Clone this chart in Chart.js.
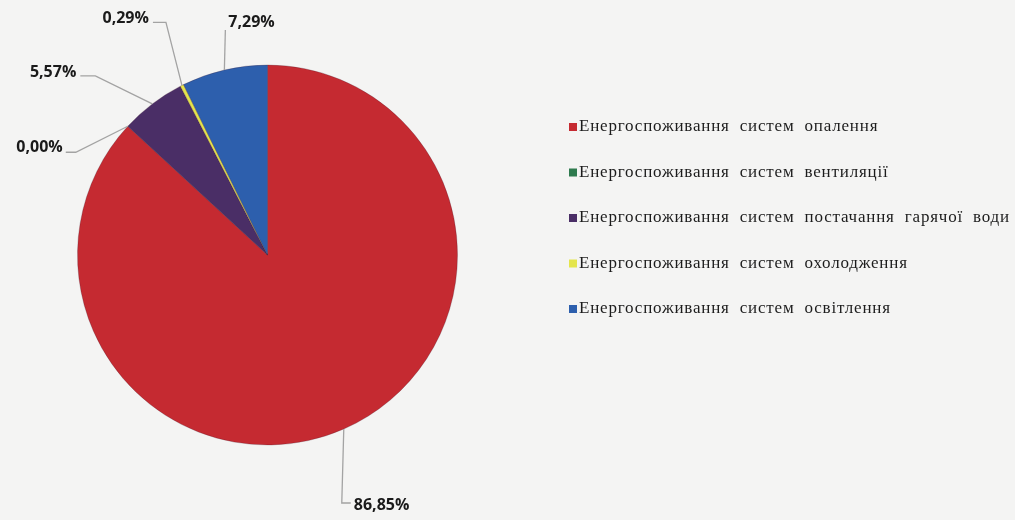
<!DOCTYPE html>
<html>
<head>
<meta charset="utf-8">
<script src="https://cdn.jsdelivr.net/npm/chart.js@4/dist/chart.umd.min.js"></script>
<style>
  html, body { margin: 0; padding: 0; background: #f4f4f3; }
  #wrap { width: 1015px; height: 520px; position: relative; }
</style>
</head>
<body>
<div id="wrap"><canvas id="canvasChart"></canvas></div>
<script>
// data
var categories = [
    "Енергоспоживання систем опалення",
    "Енергоспоживання систем вентиляції",
    "Енергоспоживання систем постачання гарячої води",
    "Енергоспоживання систем охолодження",
    "Енергоспоживання систем освітлення"
];
var shares = [86.85, 0.00, 5.57, 0.29, 7.29];
var valueLabels = ["86,85%", "0,00%", "5,57%", "0,29%", "7,29%"];
var sliceColors = ['#c52a31', '#2e7a4e', '#4a2e66', '#e4e54c', '#2d5fad'];

// leader line layout: elbow offset from slice edge, end offset from elbow, text offset from end
var leaderLayout = [
    { elbow: [-2, 74],  end: [9, 0],   text: [3, 2],   align: 'left' },
    { elbow: [-52, 26], end: [-10, 0], text: [-3, -5], align: 'right' },
    { elbow: [-57, -28], end: [-15, 0], text: [-4, -3], align: 'right' },
    { elbow: [-16, -63], end: [-13, 0], text: [-4, -4], align: 'right' },
    { elbow: [1, -40],  end: [0, 0],   text: [3, -8],  align: 'left' }
];

var leaderLabels = {
    id: 'leaderLabels',
    afterDatasetsDraw: function(chart) {
        var ctx = chart.ctx;
        var meta = chart.getDatasetMeta(0);
        ctx.save();
        meta.data.forEach(function(arc, i) {
            var p = arc.getProps(['x', 'y', 'startAngle', 'endAngle', 'outerRadius'], true);
            var mid = (p.startAngle + p.endAngle) / 2;
            var sx = p.x + Math.cos(mid) * p.outerRadius;
            var sy = p.y + Math.sin(mid) * p.outerRadius;
            var L = leaderLayout[i];
            var ex = sx + L.elbow[0], ey = sy + L.elbow[1];
            var fx = ex + L.end[0], fy = ey + L.end[1];
            ctx.strokeStyle = '#a3a3a3';
            ctx.lineWidth = 1.3;
            ctx.beginPath();
            ctx.moveTo(sx, sy);
            ctx.lineTo(ex, ey);
            ctx.lineTo(fx, fy);
            ctx.stroke();
            ctx.fillStyle = '#1a1a1a';
            ctx.font = 'bold 16px "Open Sans", sans-serif';
            ctx.textAlign = L.align;
            ctx.textBaseline = 'middle';
            ctx.fillText(valueLabels[i], fx + L.text[0], fy + L.text[1]);
        });
        ctx.restore();
    }
};

var sideLegend = {
    id: 'sideLegend',
    afterDraw: function(chart) {
        var ctx = chart.ctx;
        var x = 569, y = 127, step = 45.5;
        ctx.save();
        ctx.font = '17px "Liberation Serif", serif';
        ctx.wordSpacing = '5px';
        ctx.letterSpacing = '0.8px';
        ctx.textAlign = 'left';
        ctx.textBaseline = 'middle';
        chart.data.labels.forEach(function(label, i) {
            var yy = y + i * step;
            ctx.fillStyle = chart.data.datasets[0].backgroundColor[i];
            ctx.fillRect(x, yy - 4, 8, 8);
            ctx.fillStyle = '#1c1c1c';
            ctx.fillText(label, x + 10, yy);
        });
        ctx.restore();
    }
};

var chartObject = new Chart(document.getElementById('canvasChart'), {
    type: 'pie',
    data: {
        labels: categories,
        datasets: [{
            data: shares,
            backgroundColor: sliceColors,
            borderColor: 'rgba(60,20,40,0.25)',
            borderWidth: 1
        }]
    },
    options: {
        responsive: true,
        maintainAspectRatio: false,
        animation: false,
        layout: { padding: { left: 77, top: 64, right: 557, bottom: 74 } },
        plugins: {
            legend: { display: false },
            tooltip: { enabled: false }
        }
    },
    plugins: [leaderLabels, sideLegend]
});
</script>
</body>
</html>
